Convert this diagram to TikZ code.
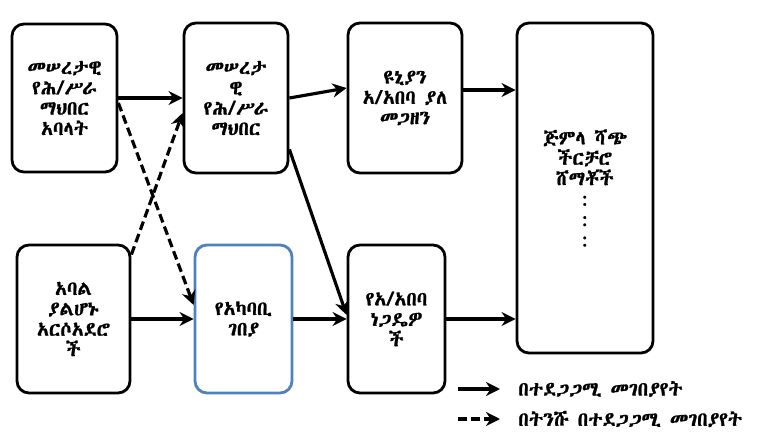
\documentclass[tikz,border=0pt]{standalone}
\usepackage{fontspec}
\IfFontExistsTF{Abyssinica SIL}
    {\newfontfamily\ethfont[AutoFakeBold=1.2]{Abyssinica SIL}}
    {\IfFontExistsTF{Noto Sans Ethiopic}
        {\newfontfamily\ethfont[AutoFakeBold=1.2]{Noto Sans Ethiopic}}
        {\newfontfamily\ethfont[AutoFakeBold=1.2]{FreeSerif}}}
\usetikzlibrary{arrows.meta, positioning, calc}
\definecolor{bLOCAL}{HTML}{4F81BD}

\begin{document}
\begin{tikzpicture}[
    every node/.style={font=\ethfont\bfseries\fontsize{11.2}{11.6}\selectfont, text=black},
    actor/.style={
        draw, rounded corners=0.24cm,
        minimum height=2.96cm,
        align=center, line width=1.6pt, inner sep=2pt
    },
    arrow/.style={-{Stealth[length=8pt, width=8pt]}, line width=1.8pt},
    weak/.style={arrow, dash pattern=on 5pt off 2.5pt},
    lgd/.style={anchor=west, inner sep=0pt}
]

% ── CANVAS ─────────────────────────────────────────────────────
\useasboundingbox (0, 0) rectangle (15.2, -8.8);

% === TOP ROW ===
\node[actor, minimum width=2.1cm]
    (member) at (1.29, -1.96)
    {መሠረታዊ\\የሕ/ሥራ\\ማህበር\\አባላት};

\node[actor, minimum width=2.08cm, minimum height=3.0cm]
    (coop) at (4.72, -1.96)
    {መሠረታ\\ዊ\\የሕ/ሥራ\\ማህበር};

\node[actor, minimum width=2.28cm, minimum height=3.0cm]
    (union) at (8.1, -1.96)
    {ዩኒያን\\አ/አበባ ያለ\\መጋዘን};

% === RIGHT COLUMN ===
\node[actor, minimum width=2.72cm, minimum height=6.6cm]
    (buyers) at (11.7, -3.76)
    {ጅምላ ሻጭ\\ችርቻሮ\\ሸማቾች\\:\\:\\:};

% === BOTTOM ROW ===
\node[actor, minimum width=2.26cm]
    (nonmember) at (1.47, -6.38)
    {አባል\\ያልሆኑ\\አርሶአደሮ\\ች};

\node[actor, draw=bLOCAL, minimum width=1.94cm]
    (local) at (4.87, -6.38)
    {የአካባቢ\\ገበያ};

\node[actor, minimum width=1.94cm]
    (traders) at (7.93, -6.38)
    {የአ/አበባ\\ነጋዴዎ\\ች};

% ── ARROWS ─────────────────────────────────────────────────────

% Members → cooperative → union → buyers
\draw[arrow] (member) -- (coop);
\draw[arrow] (coop.east) -- ([yshift=0.2cm]union.west);
\draw[arrow] ([yshift=0.16cm]union.east) -- ([yshift=0.16cm]union.east -| buyers.west);

% Cooperative → Addis traders
\draw[arrow] ([yshift=0.5cm]coop.south east) -- ([yshift=0.08cm]traders.west);

% Bottom row
\draw[arrow] (nonmember) -- (local);
\draw[arrow] (local) -- (traders);
\draw[arrow] (traders.east) -- (traders.east -| buyers.west);

% Less frequent trade
\draw[weak] ([yshift=-0.1cm]member.east) -- ([yshift=0.28cm]local.west);
\draw[weak] ([yshift=-0.22cm]nonmember.north east) -- ([yshift=-0.3cm]coop.west);

% ── LEGEND ─────────────────────────────────────────────────────
\coordinate (lgdA) at (9.16, -7.78);
\node[lgd] (lgdsolid) at (10.36, -7.78) {በተደጋጋሚ መገበያየት};
\draw[arrow] (lgdA) -- ([xshift=-0.36cm]lgdsolid.west);

\coordinate (lgdB) at (9.16, -8.38);
\node[lgd] (lgddash) at (10.36, -8.38) {በትንሹ በተደጋጋሚ መገበያየት};
\draw[weak] (lgdB) -- ([xshift=-0.36cm]lgddash.west);

\end{tikzpicture}
\end{document}
